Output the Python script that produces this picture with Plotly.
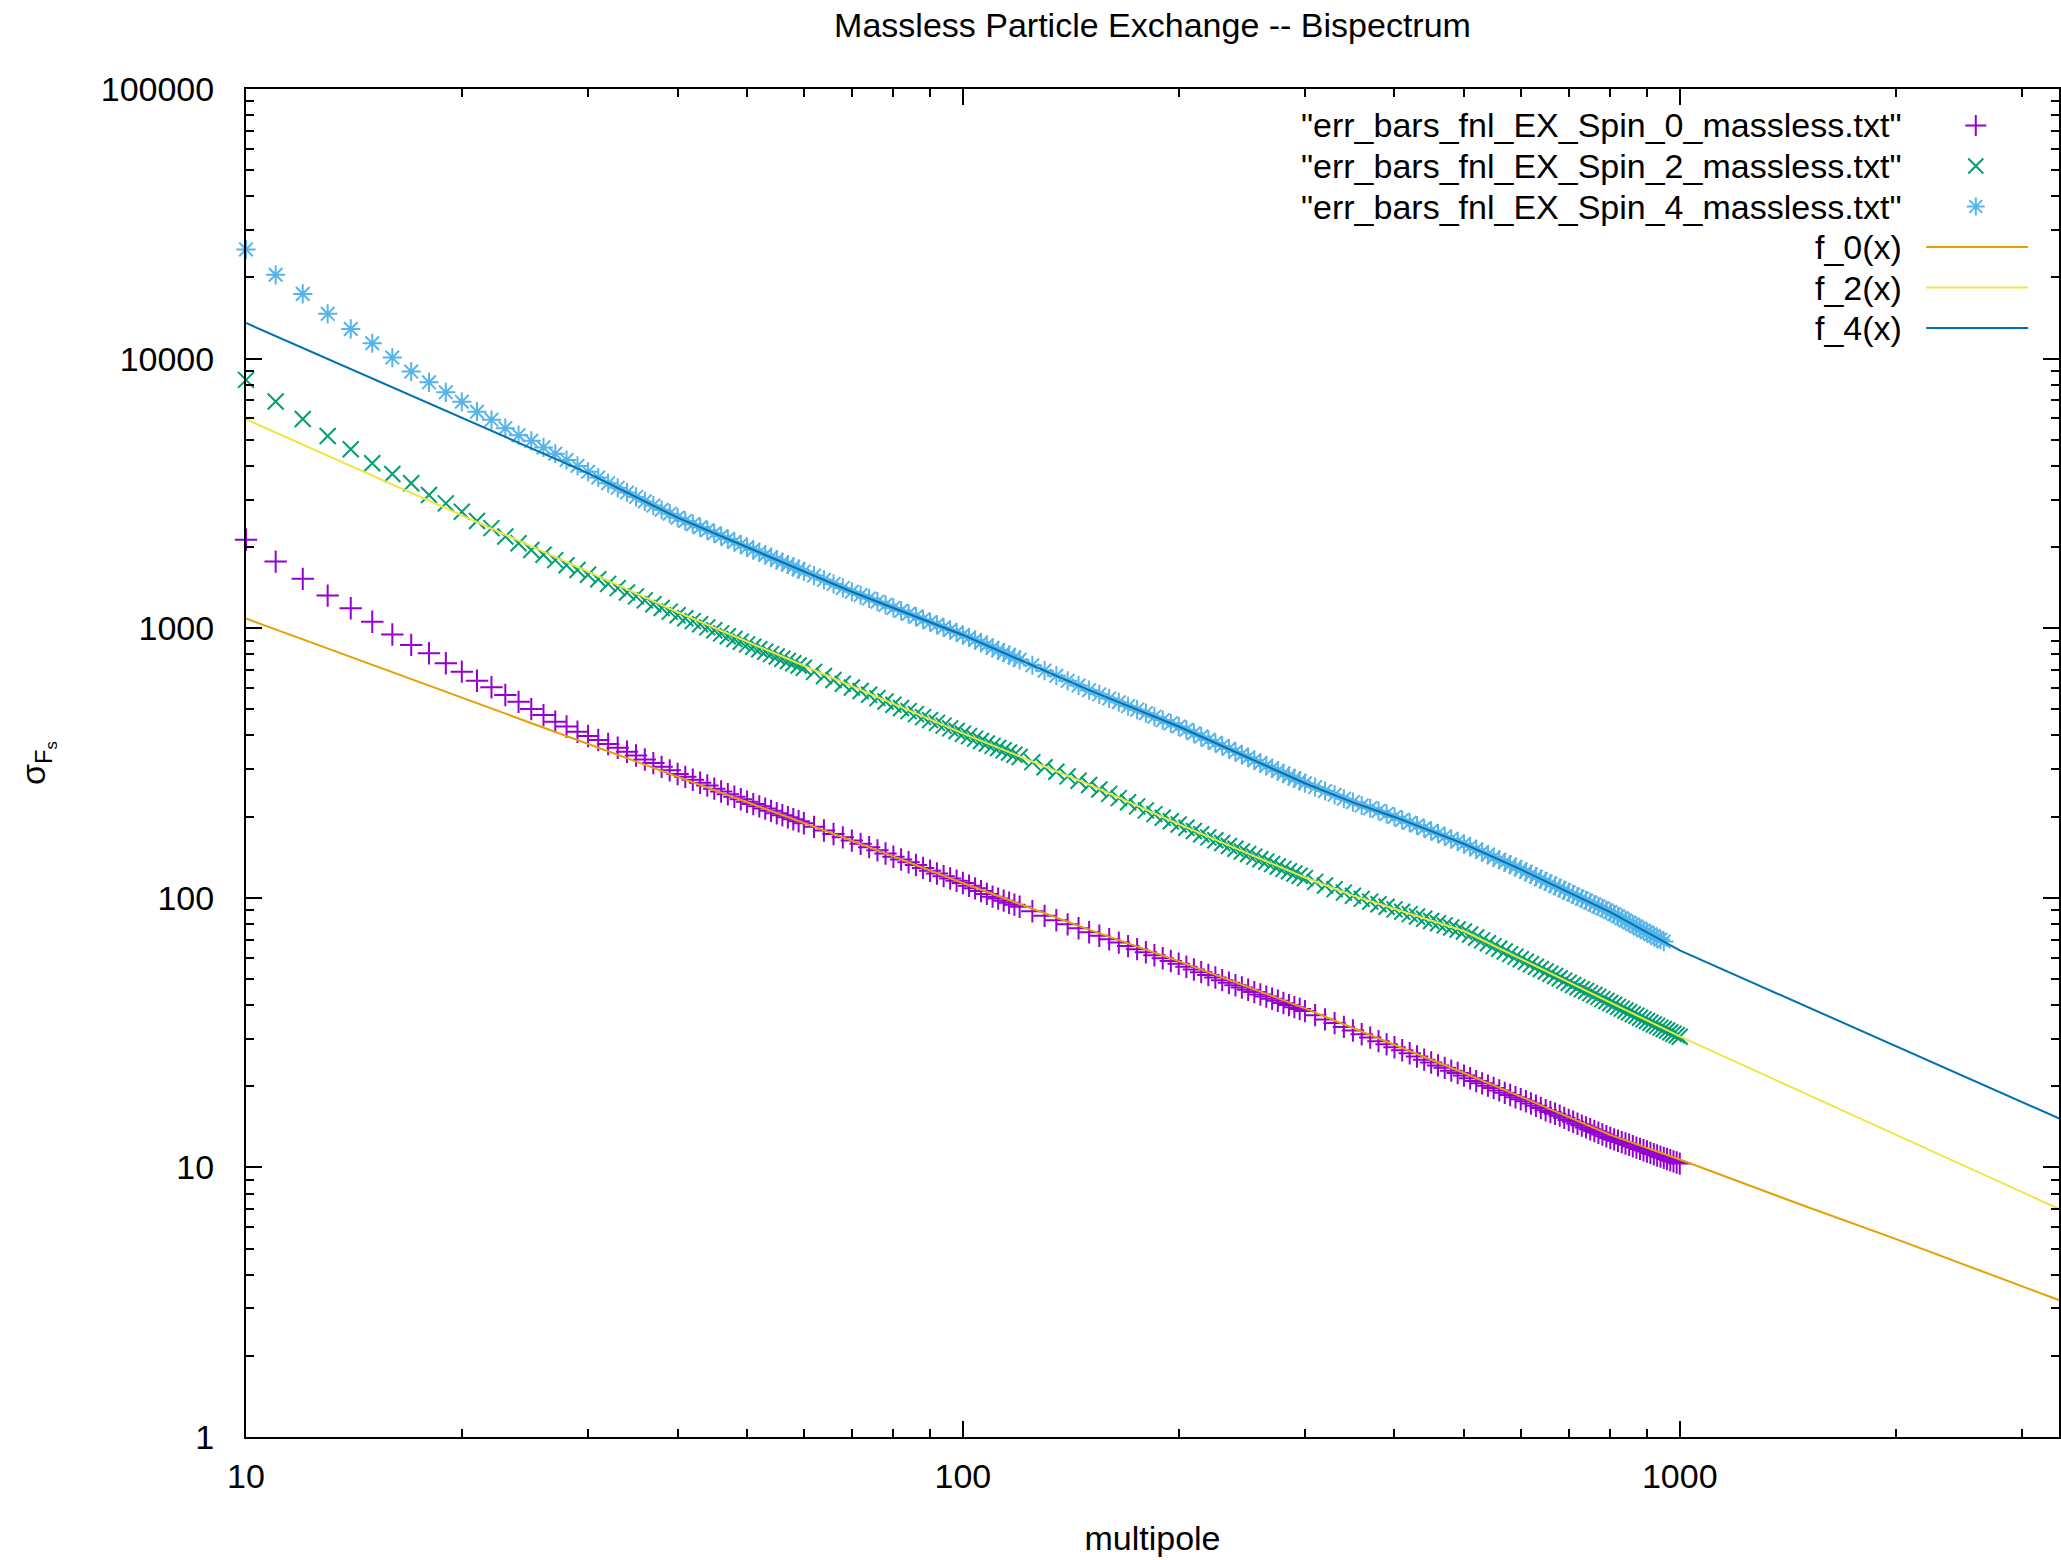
import plotly.graph_objects as go

# ---------------- data ----------------
ell = [10, 11, 12, 13, 14, 15, 16, 17, 18, 19, 20, 21, 22, 23, 24, 25, 26, 27, 28, 29, 30,
       31, 32, 33, 34, 35, 36, 37, 38, 39, 40,
       41, 42, 43, 44, 45, 46, 47, 48, 49, 50,
       51, 52, 53, 54, 55, 56, 57, 58, 59, 60,
       62, 64, 66, 68, 70, 72, 74, 76, 78, 80,
       82, 84, 86, 88, 90, 92, 94, 96, 98, 100,
       102, 104, 106, 108, 110, 112, 114, 116, 118, 120,
       125, 130, 135, 140, 145, 150, 155, 160, 165, 170, 175, 180, 185, 190, 195, 200,
       205, 210, 215, 220, 225, 230, 235, 240, 245, 250, 255, 260, 265, 270, 275, 280, 285, 290, 295, 300,
       310, 320, 330, 340, 350, 360, 370, 380, 390, 400,
       410, 420, 430, 440, 450, 460, 470, 480, 490, 500,
       510, 520, 530, 540, 550, 560, 570, 580, 590, 600,
       610, 620, 630, 640, 650, 660, 670, 680, 690, 700,
       710, 720, 730, 740, 750, 760, 770, 780, 790, 800,
       810, 820, 830, 840, 850, 860, 870, 880, 890, 900,
       910, 920, 930, 940, 950, 960, 970, 980, 990, 1000]

spin0_sigma = [2128, 1766, 1524, 1321, 1186, 1057, 948, 867, 807, 741, 690, 638, 604, 565, 533, 501, 476, 450, 432, 413, 398,
               385, 372, 360, 348, 337, 326, 316, 306, 297, 288,
               281, 274, 267, 261, 254, 248, 242, 237, 232, 227,
               222.6, 218.4, 214.2, 210.1, 206, 202.5, 199.0, 195.6, 192.3, 189,
               183.3, 177.7, 172.5, 167.6, 163, 158.5, 154.1, 150.0, 146.0, 142,
               138.7, 135.5, 132.4, 129.1, 126, 123.1, 120.3, 117.9, 115.7, 113.5,
               110.9, 108.4, 105.9, 103.4, 101, 99.3, 97.6, 95.9, 94.3, 92.7,
               89.1, 85.7, 82.6, 79.7, 77.1, 74.5, 72.3, 70.2, 68.2, 66.2, 64.5, 62.8, 61.2, 59.7, 58.3, 56.9,
               55.5, 54.2, 53.0, 51.7, 50.6, 49.5, 48.4, 47.4, 46.5, 45.6, 44.7, 43.8, 43.0, 42.2, 41.5, 40.7, 40.0, 39.3, 38.7, 38.0,
               36.7, 35.4, 34.3, 33.2, 32.2, 31.2, 30.3, 29.4, 28.6, 27.9,
               27.2, 26.5, 25.8, 25.1, 24.5, 23.9, 23.4, 22.85, 22.4, 21.9,
               21.4, 20.9, 20.5, 20.1, 19.7, 19.3, 18.9, 18.55, 18.2, 17.9,
               17.6, 17.25, 16.94, 16.6, 16.3, 16.06, 15.82, 15.56, 15.27, 15.0,
               14.76, 14.52, 14.29, 14.07, 13.85, 13.65, 13.45, 13.25, 13.05, 12.85,
               12.70, 12.55, 12.41, 12.27, 12.13, 11.98, 11.84, 11.71, 11.58, 11.45,
               11.32, 11.19, 11.07, 10.96, 10.85, 10.74, 10.63, 10.53, 10.43, 10.33]

spin2_sigma = [8337, 6934, 5970, 5164, 4613, 4093, 3733, 3451, 3119, 2904, 2704, 2500, 2350, 2188, 2065, 1950, 1873, 1789, 1713, 1643, 1578,
               1518, 1460, 1408, 1357, 1312, 1268, 1227, 1188, 1152, 1117,
               1089, 1062, 1034, 1007, 982, 957, 934, 912, 891, 871,
               853, 835.5, 818.3, 801.5, 785, 770, 755.5, 741, 727, 713,
               688.5, 664.8, 642.7, 622.4, 603, 584.6, 566.8, 550.2, 535, 520,
               506.1, 492.6, 479.9, 467.8, 456, 445.4, 435.1, 425.1, 415.4, 406,
               397.7, 389.5, 381.5, 373.7, 366, 359.2, 352.5, 345.9, 339.4, 333,
               318.7, 305, 293.3, 282, 271.8, 262, 252.3, 243, 234.3, 226, 218.4, 211, 204.4, 198, 192.4, 187,
               182.0, 177.0, 172.2, 167.5, 163.5, 159.6, 155.7, 152, 148.6, 145.4, 142.1, 139, 136.2, 133.4, 130.7, 128, 125.5, 123.1, 120.7, 118.3,
               114.6, 111, 107.7, 104.5, 101.8, 99.1, 96.8, 94.6, 92.6, 90.6,
               88.8, 87.0, 85.3, 83.6, 82.0, 80.5, 79.0, 77.6, 76.3, 75.0,
               73.1, 71.2, 69.5, 67.8, 66.2, 64.7, 63.2, 61.8, 60.5, 59.2,
               57.9, 56.7, 55.5, 54.4, 53.3, 52.3, 51.3, 50.3, 49.3, 48.4,
               47.5, 46.6, 45.8, 45.1, 44.3, 43.6, 42.9, 42.1, 41.4, 40.7,
               40.1, 39.4, 38.8, 38.2, 37.6, 37.0, 36.5, 35.9, 35.4, 34.9,
               34.4, 33.9, 33.5, 33.0, 32.6, 32.2, 31.7, 31.3, 30.9, 30.5]

spin4_sigma = [25410, 20460, 17380, 14660, 12880, 11400, 10090, 8954, 8166, 7499, 6918, 6353, 5929, 5521, 5200, 4955, 4685, 4436, 4207, 3999, 3802,
               3622, 3451, 3316, 3186, 3068, 2954, 2850, 2750, 2659, 2570,
               2500, 2432, 2369, 2307, 2249, 2193, 2141, 2090, 2042, 1995,
               1953, 1911, 1871, 1831, 1792, 1757, 1723, 1689, 1656, 1624,
               1567, 1512, 1459, 1411, 1365, 1327, 1290, 1254, 1221, 1189,
               1160, 1131, 1104, 1078, 1053, 1029, 1006, 985, 964, 944,
               923.6, 903.6, 884.1, 864.9, 845, 828, 811.5, 795, 779, 763,
               728.7, 696, 666.4, 638, 613, 589, 568.6, 549, 531.2, 514, 498.8, 484, 469.8, 456, 443.8, 432,
               419.8, 407.8, 396.2, 385, 375.4, 366.0, 356.9, 348, 339.7, 331.6, 323.7, 316, 309.1, 302.2, 295.5, 289, 283.1, 277.3, 271.6, 266,
               257.4, 249, 240.9, 233, 226.4, 220, 214.9, 210, 204.7, 199.5,
               194.6, 189.8, 185.4, 181.1, 177, 172.9, 168.9, 165.3, 161.8, 158.5,
               154.8, 151.2, 147.8, 144.6, 141.4, 138.4, 135.5, 132.7, 130.1, 127.4,
               124.8, 122.3, 119.8, 117.3, 115, 112.8, 110.7, 108.7, 106.7, 104.7,
               102.9, 101.1, 99.3, 97.7, 96.0, 94.4, 92.9, 91.4, 89.9, 88.5,
               86.9, 85.4, 83.9, 82.4, 81.0, 79.6, 78.3, 77.0, 75.7, 74.5,
               73.3, 72.1, 70.9, 69.9, 68.8]

fit_ell = [10, 15, 20, 25, 30, 40, 50, 70, 100, 150, 200, 250, 300, 350, 400, 500, 600, 700, 800, 1000,
           1500, 2000, 3000, 3400]
f0_vals = [1086, 731, 552, 445, 372, 281, 226, 163, 113.5, 76.2, 58.2, 46.6, 38.9, 32.9, 28.5, 22.4, 18.3, 15.4, 13.2, 10.7,
           7.16, 5.43, 3.63, 3.20]
f2_vals = [5957, 3690, 2630, 2018, 1622, 1148, 891, 610, 407, 263, 187.5, 145.9, 118.9, 101.9, 91.0, 75.3, 59.4, 48.6, 40.9, 30.6,
           18.75, 13.24, 8.11, 6.97]
f4_vals = [13550, 8433, 6026, 4624, 3758, 2570, 1995, 1365, 944, 589, 432, 331, 266, 226, 199.5, 158.5, 127.4, 104.7, 88.5, 63.8,
           39.5, 28.2, 17.5, 15.1]

data_names = ['"err_bars_fnl_EX_Spin_0_massless.txt"',
              '"err_bars_fnl_EX_Spin_2_massless.txt"',
              '"err_bars_fnl_EX_Spin_4_massless.txt"']
fit_names = ['f_0(x)', 'f_2(x)', 'f_4(x)']

x_ticks = [10, 100, 1000]
y_ticks = [1, 10, 100, 1000, 10000, 100000]

# ---------------- styling ----------------
W, H = 2061, 1560
ML, MR, MT, MB = 246, 0, 89, 123
FONT = "Liberation Sans, Arial, Helvetica, sans-serif"
FS = 34
data_colors = ['#9400d3', '#009e73', '#56b4e9']
data_symbols = ['cross-thin', 'x-thin', 'asterisk']
fit_colors = ['#e69f00', '#f0e442', '#0072b2']
MSIZE = 16

fig = go.Figure()

series = [spin0_sigma, spin2_sigma, spin4_sigma]
for name, vals, col, sym in zip(data_names, series, data_colors, data_symbols):
    fig.add_trace(go.Scatter(
        x=ell[:len(vals)], y=vals, mode='markers', name=name, showlegend=False,
        cliponaxis=False,
        marker=dict(symbol=sym, size=MSIZE, color=col, line=dict(width=2, color=col))))

for name, vals, col in zip(fit_names, [f0_vals, f2_vals, f4_vals], fit_colors):
    fig.add_trace(go.Scatter(
        x=fit_ell, y=vals, mode='lines', name=name, showlegend=False,
        line=dict(color=col, width=2)))

# ---------------- gnuplot-style key (text right-aligned, sample on the right) ----------------
plot_w = W - ML - MR
plot_h = H - MT - MB
row0, row_dy = 125.5, 40.5
text_right_px = 1906
sym_px = 1977.7
line_px = (1928, 2030)

def fx(px):
    return (px - ML) / plot_w

def fy(py):
    return (H - MB - py) / plot_h

entries = [(n, 'marker', c, s) for n, c, s in zip(data_names, data_colors, data_symbols)] + \
          [(n, 'line', c, None) for n, c in zip(fit_names, fit_colors)]
annotations = []
for i, (name, kind, col, sym) in enumerate(entries):
    ry = fy(row0 + row_dy * i)
    annotations.append(dict(text=name, x=fx(text_right_px), y=ry, xref='paper', yref='paper',
                            xanchor='right', yanchor='middle', showarrow=False,
                            font=dict(family=FONT, size=FS, color='black')))
    if kind == 'marker':
        fig.add_trace(go.Scatter(x=[fx(sym_px)], y=[ry], xaxis='x2', yaxis='y2', mode='markers',
                                 showlegend=False, hoverinfo='skip', cliponaxis=False,
                                 marker=dict(symbol=sym, size=15, color=col, line=dict(width=2, color=col))))
    else:
        fig.add_trace(go.Scatter(x=[fx(line_px[0]), fx(line_px[1])], y=[ry, ry], xaxis='x2', yaxis='y2',
                                 mode='lines', showlegend=False, hoverinfo='skip', cliponaxis=False,
                                 line=dict(color=col, width=2)))

def minor_vals(lo_exp, hi_exp):
    out = []
    for e in range(lo_exp, hi_exp):
        for m in range(2, 10):
            out.append(m * 10 ** e)
    return out

axis_common = dict(showline=True, linecolor='black', linewidth=2, mirror='allticks',
                   ticks='inside', ticklen=16, tickwidth=2, tickcolor='black',
                   showgrid=False, zeroline=False,
                   tickfont=dict(family=FONT, size=FS, color='black'))

fig.update_layout(
    width=W, height=H,
    margin=dict(l=ML, r=MR, t=MT, b=MB, pad=0),
    paper_bgcolor='white', plot_bgcolor='white',
    font=dict(family=FONT, size=FS, color='black'),
    showlegend=False,
    title=dict(text='Massless Particle Exchange -- Bispectrum', x=0.5, xref='paper', xanchor='center',
               y=1 - 25 / H, yref='container', yanchor='middle',
               font=dict(family=FONT, size=FS, color='black')),
    xaxis=dict(type='log', range=[1, 3.529], tickvals=x_ticks, ticktext=[str(v) for v in x_ticks],
               minor=dict(ticks='inside', ticklen=8, tickwidth=2, tickcolor='black',
                          tickvals=minor_vals(1, 4), showgrid=False),
               ticklabelstandoff=8,
               title=dict(text='multipole', standoff=32, font=dict(family=FONT, size=FS, color='black')),
               **axis_common),
    yaxis=dict(type='log', range=[0, 5], tickvals=y_ticks, ticktext=[str(v) for v in y_ticks],
               minor=dict(ticks='inside', ticklen=8, tickwidth=2, tickcolor='black',
                          tickvals=minor_vals(0, 5), showgrid=False),
               ticklabelstandoff=23,
               title=dict(text='σ<sub>F<sub>s</sub></sub>', standoff=45,
                          font=dict(family=FONT, size=FS, color='black')),
               **axis_common),
    xaxis2=dict(overlaying='x', anchor='y2', range=[0, 1], visible=False, type='linear', fixedrange=True),
    yaxis2=dict(overlaying='y', anchor='x2', range=[0, 1], visible=False, type='linear', fixedrange=True),
    annotations=annotations,
)

fig.write_html("out.html",
               config={'displayModeBar': False},
               post_script="document.body.style.margin='0';document.body.style.padding='0';"
                           "document.body.style.overflow='hidden';")
